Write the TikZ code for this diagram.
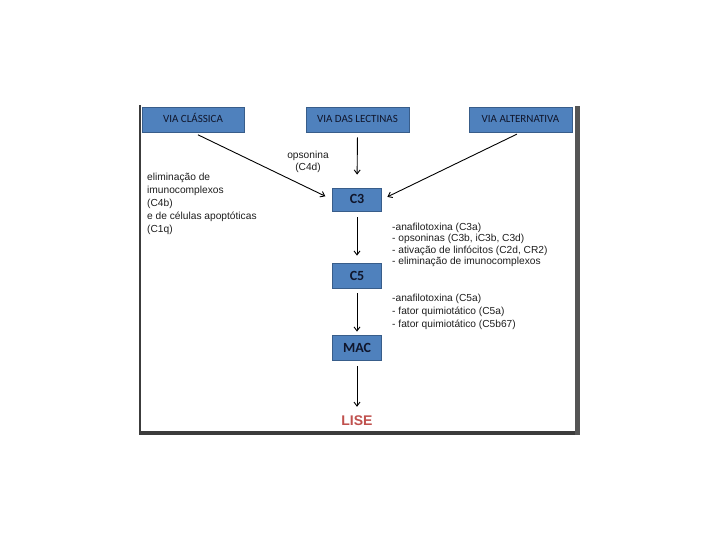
\documentclass[tikz,border=0pt]{standalone}
\usepackage{fontspec}
\setmainfont{Liberation Sans}
\newfontfamily\calib{Carlito}
\usetikzlibrary{arrows.meta}
\definecolor{boxblue}{RGB}{79,129,189}
\definecolor{boxedge}{RGB}{56,93,138}
\definecolor{boxtext}{RGB}{16,22,44}
\definecolor{notetext}{RGB}{30,30,30}
\definecolor{framegray}{RGB}{60,60,60}
\definecolor{rightgray}{RGB}{85,85,85}
\definecolor{liseRed}{RGB}{192,80,77}
\begin{document}
\begin{tikzpicture}[x=1pt,y=-1pt,
  box/.style={draw=boxedge, fill=boxblue, line width=0.8pt, inner sep=0pt,
    font=\calib\fontsize{11}{13}\selectfont, text=boxtext,
    text height=7pt, text depth=0pt,
    minimum width=103pt, minimum height=25pt},
  cbox/.style={box, font=\calib\bfseries\fontsize{14}{16}\selectfont,
    text height=9pt, text depth=0pt,
    minimum width=49pt, minimum height=24pt},
  arr/.style={line width=0.9pt, draw=black, -{Straight Barb[length=4pt,width=6pt]}},
  note/.style={inner sep=0pt, align=left, text=notetext},
]
\useasboundingbox (0,0) rectangle (720,540);
\fill[white] (0,0) rectangle (720,540);
% frame
\fill[framegray] (139,105) rectangle (141,434.5);
\fill[framegray] (139,431) rectangle (580,434.5);
\fill[rightgray] (575,106) rectangle (580,434.5);
% boxes
\node[box, minimum width=102pt] (vc) at (193,119.5) {VIA CLÁSSICA};
\node[box] (vl) at (357.5,119.5) {VIA DAS LECTINAS};
\node[box] (va) at (520.5,119.5) {VIA ALTERNATIVA};
\node[cbox, minimum height=23pt] (c3) at (357,199.5) {C3};
\node[cbox, minimum height=25pt] (c5) at (357,275.5) {C5};
\node[cbox, minimum height=25pt] (mac) at (357,347.5) {MAC};
\node[inner sep=0pt, font=\bfseries\fontsize{14}{16}\selectfont, text=liseRed,
  text height=10pt, text depth=0pt] (lise) at (357,420) {LISE};
% notes
\node[note, align=center, anchor=north, font=\fontsize{10.2}{12}\selectfont] (ops) at (308,151) {opsonina\\(C4d)};
\node[note, anchor=north west, font=\fontsize{10.2}{13}\selectfont] (elim) at (147,173) {eliminação de\\imunocomplexos\\(C4b)\\e de células apoptóticas\\(C1q)};
\node[note, anchor=north west, font=\fontsize{10.2}{11.4}\selectfont] (c3notes) at (392,223) {-anafilotoxina (C3a)\\- opsoninas (C3b, iC3b, C3d)\\- ativação de linfócitos (C2d, CR2)\\- eliminação de imunocomplexos};
\node[note, anchor=north west, font=\fontsize{10.2}{13}\selectfont] (c5notes) at (392,294) {-anafilotoxina (C5a)\\- fator quimiotático (C5a)\\- fator quimiotático (C5b67)};
% arrows
\draw[arr, shorten <=5.5pt, shorten >=7.5pt] (vc.south) -- (c3.west);
\draw[arr, shorten <=4pt, shorten >=6pt] (va.south) -- (c3.east);
\draw[arr, shorten <=5pt, shorten >=13pt] (vl.south) -- (c3.north);
\draw[arr, shorten <=6pt, shorten >=7pt] (c3.south) -- (c5.north);
\draw[arr, shorten <=5pt, shorten >=3pt] (c5.south) -- (mac.north);
\draw[arr, shorten <=6pt, shorten >=8pt] (mac.south) -- (lise.north);
\end{tikzpicture}
\end{document}
